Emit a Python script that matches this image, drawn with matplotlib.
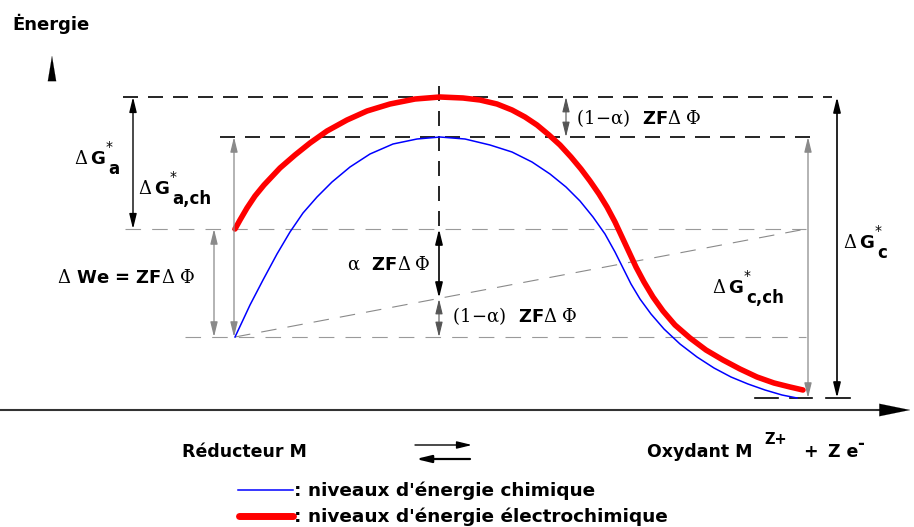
import matplotlib
matplotlib.use('Agg')
from matplotlib import pyplot as plt

plt.rcParams['font.family'] = ['DejaVu Sans']
plt.rcParams['mathtext.fontset'] = 'custom'
plt.rcParams['mathtext.rm'] = 'DejaVu Serif'
plt.rcParams['mathtext.bf'] = 'DejaVu Sans:bold'
plt.rcParams['mathtext.it'] = 'DejaVu Serif'

# levels (pixel-like units, y grows downwards)
y_top = 97        # peak of electrochemical curve
y_peak_ch = 137   # peak of chemical curve
y_red_start = 229
y_ox = 337
y_end = 398
x_peak = 439

# electrochemical curve (red)
red_x = [235, 240, 247, 255, 264, 280, 295, 310, 327, 347, 367, 390, 415, 440,
         463, 480, 497, 512, 525, 537, 549, 560, 571, 581, 590, 599, 607, 615, 622,
         629, 636, 644, 653, 663, 675, 690, 706, 723, 740, 757, 774, 790, 803]
red_y = [229, 220, 208, 196, 185, 168, 155, 143, 131, 120, 111, 104, 99, 97,
         98, 100, 104, 110, 117, 125, 135, 145, 157, 169, 181, 194, 207, 222, 237,
         252, 267, 282, 297, 311, 325, 338, 350, 360, 369, 377, 383, 387, 390]

# chemical curve (blue)
blue_x = [235, 243, 250, 263, 277, 290, 303, 317, 332, 350, 370, 393, 417, 440,
          465, 490, 512, 532, 550, 566, 580, 593, 605, 615, 623, 631, 640, 651, 664,
          680, 697, 714, 731, 748, 765, 782, 797]
blue_y = [337, 320, 305, 280, 254, 232, 213, 197, 182, 167, 154, 144, 139, 137,
          139, 145, 152, 162, 174, 187, 201, 217, 234, 252, 268, 284, 299, 314, 329,
          344, 357, 368, 377, 384, 390, 395, 398]

fig = plt.figure(figsize=(9.14, 5.27), dpi=100)
ax = fig.add_axes([0, 0, 1, 1])
ax.set_xlim(0, 914)
ax.set_ylim(527, 0)
ax.axis('off')

# level lines
ax.plot([123, 832], [y_top, y_top], color='black', lw=1.2, dashes=(9, 6))
ax.plot([220, 816], [y_peak_ch, y_peak_ch], color='black', lw=1.2, dashes=(9, 6))
ax.plot([125, 806], [y_red_start, y_red_start], color='#9a9a9a', lw=0.8, dashes=(14, 10))
ax.plot([185, 806], [y_ox, y_ox], color='#9a9a9a', lw=0.8, dashes=(14, 10))
ax.plot([x_peak, x_peak], [86, y_red_start], color='black', lw=1.2, dashes=(9, 6))
ax.plot([235, 806], [y_ox, y_red_start], color='#8a8a8a', lw=0.8, dashes=(14, 10))
for x0, x1 in [(755, 778), (790, 812), (826, 850)]:
    ax.plot([x0, x1], [y_end, y_end], color='black', lw=1.2)

# curves
ax.plot(blue_x, blue_y, color='blue', lw=1.1)
ax.plot(red_x, red_y, color='red', lw=4, solid_capstyle='round')

# axes arrows
ax.plot([0, 880], [410, 410], color='#333333', lw=1.5)
ax.annotate('', xy=(913, 410), xytext=(873, 410),
            arrowprops=dict(arrowstyle='-|>,head_length=2.2,head_width=0.45', color='black', lw=0.1))
ax.annotate('', xy=(52, 53), xytext=(52, 80),
            arrowprops=dict(arrowstyle='-|>,head_length=1.8,head_width=0.3', color='black', lw=0.1))


def darrow(x, y0, y1, col='black', lw=1.0):
    ax.annotate('', xy=(x, y0), xytext=(x, y1),
                arrowprops=dict(arrowstyle='<|-|>,head_length=0.9,head_width=0.22',
                                color=col, lw=lw, shrinkA=0, shrinkB=0))


darrow(133, y_top, y_red_start, 'black', 1.0)
darrow(234, y_peak_ch, y_ox, '#8a8a8a', 0.9)
darrow(214, y_red_start, y_ox, '#8a8a8a', 0.9)
darrow(x_peak, y_red_start, 298, 'black', 1.2)
darrow(x_peak, 299, y_ox, '#555555', 0.8)
darrow(566, y_top, y_peak_ch, '#555555', 0.8)
darrow(808, y_peak_ch, y_end, '#8a8a8a', 0.9)
darrow(837, y_top, y_end, 'black', 1.2)


def glabel(x, y, sub):
    # Delta G*_sub with a large subscript, as in the original drawing
    ax.text(x, y, 'Δ', fontsize=13, family='DejaVu Serif', va='center')
    ax.text(x + 16, y, 'G', fontsize=13, fontweight='bold', va='center')
    ax.text(x + 32, y - 5, '*', fontsize=10, va='bottom')
    ax.text(x + 34, y + 1, sub, fontsize=12, fontweight='bold', va='top')


# labels
ax.text(12, 24, 'Ėnergie', fontsize=13, fontweight='bold', va='center')
glabel(74, 159, 'a')
glabel(138, 189, 'a,ch')
glabel(712, 288, 'c,ch')
glabel(843, 243, 'c')

fs = 13
ax.text(57, 278, r'$\Delta$ We = ZF$\Delta\;\Phi$', fontsize=fs, fontweight='bold', va='center')
ax.text(347, 265, r'$\alpha$  ZF$\Delta\;\Phi$', fontsize=fs, fontweight='bold', va='center')
ax.text(452, 316, r'$(1\!-\!\alpha)$  ZF$\Delta\;\Phi$', fontsize=fs, fontweight='bold', va='center')
ax.text(576, 118, r'$(1\!-\!\alpha)$  ZF$\Delta\;\Phi$', fontsize=fs, fontweight='bold', va='center')

ax.text(182, 452, 'Réducteur M', fontsize=12.5, fontweight='bold', va='center')
ax.text(647, 452, 'Oxydant M', fontsize=12.5, fontweight='bold', va='center')
ax.text(764, 439, 'Z+', fontsize=10.5, fontweight='bold', va='center')
ax.text(803, 452, '+', fontsize=12.5, fontweight='bold', va='center')
ax.text(828, 452, 'Z e', fontsize=12.5, fontweight='bold', va='center')
ax.text(857, 444, '-', fontsize=12, fontweight='bold', va='center')
ax.annotate('', xy=(472, 445), xytext=(415, 445),
            arrowprops=dict(arrowstyle='-|>,head_length=0.9,head_width=0.22', color='black',
                            lw=1, shrinkA=0, shrinkB=0))
ax.annotate('', xy=(416, 459), xytext=(470, 459),
            arrowprops=dict(arrowstyle='-|>,head_length=0.9,head_width=0.22', color='black',
                            lw=1.6, shrinkA=0, shrinkB=0))

# legend
ax.plot([238, 293], [490, 490], color='blue', lw=1.1)
ax.text(294, 491, ": niveaux d'énergie chimique", fontsize=13.3, fontweight='bold', va='center')
ax.plot([239, 293], [516, 516], color='red', lw=5, solid_capstyle='round')
ax.text(294, 517, ": niveaux d'énergie électrochimique", fontsize=13.3, fontweight='bold',
        va='center')

fig.savefig('out.png', dpi=100)
